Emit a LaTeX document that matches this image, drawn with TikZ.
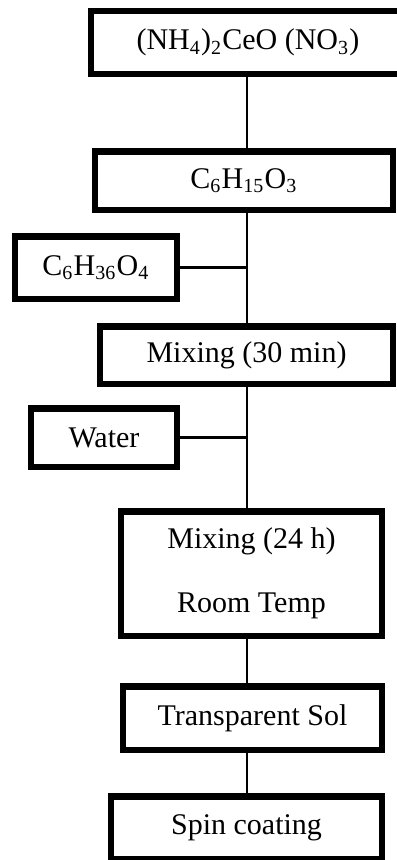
\documentclass[tikz,border=0pt]{standalone}
\usepackage{fontspec}
\setmainfont{Liberation Serif}

\begin{document}
\begin{tikzpicture}[x=0.4pt,y=-0.4pt,
  stage/.style={draw,line width=2.6pt,inner sep=0pt,align=center,font=\fontsize{12}{14.4}\selectfont},
  link/.style={line width=1pt}]
\useasboundingbox (0,0) rectangle (396,860);
\coordinate (spine) at (247,0);
\node[stage,minimum width=125.4pt,minimum height=25pt] (ceric) at (248,42.5) {(NH\textsubscript{4})\textsubscript{2}CeO (NO\textsubscript{3})};
\node[stage,minimum width=119pt,minimum height=23.4pt] (amine) at (244,180.5) {C\textsubscript{6}H\textsubscript{15}O\textsubscript{3}};
\node[stage,minimum width=64.6pt,minimum height=25pt] (glycol) at (96,267.5) {C\textsubscript{6}H\textsubscript{36}O\textsubscript{4}};
\node[stage,minimum width=117pt,minimum height=23pt] (mixA) at (246.5,355) {Mixing (30 min)};
\node[stage,minimum width=58.2pt,minimum height=23.4pt] (water) at (104,437.5) {Water};
\node[stage,minimum width=104.2pt,minimum height=49.8pt] (mixB) at (251.5,573.5) {Mixing (24 h)\\[11pt]Room Temp};
\node[stage,minimum width=103.4pt,minimum height=25.4pt] (sol) at (252.5,718) {Transparent Sol};
\node[stage,minimum width=108.2pt,minimum height=25pt] (spin) at (246.5,827.5) {Spin coating};
\draw[link] (ceric.south -| spine)--(amine.north -| spine);
\draw[link] (amine.south -| spine)--(mixA.north -| spine);
\draw[link] (glycol.east)--(glycol.east -| spine);
\draw[link] (mixA.south -| spine)--(mixB.north -| spine);
\draw[link] (water.east)--(water.east -| spine);
\draw[link] (mixB.south -| spine)--(sol.north -| spine);
\draw[link] (sol.south -| spine)--(spin.north -| spine);
\end{tikzpicture}
\end{document}
